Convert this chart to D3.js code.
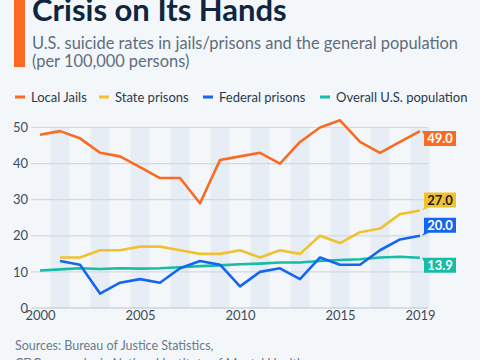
<!DOCTYPE html>
<html><head><meta charset="utf-8">
<script src="https://cdn.jsdelivr.net/npm/d3@7"></script>
<style>
html,body{margin:0;padding:0;background:#f4f7fa;}
svg{display:block;font-family:Lato,"Open Sans",sans-serif;}
</style></head>
<body>
<svg id="c" width="480" height="360"></svg>
<script>
const years = d3.range(2000, 2020);
const localJails = [48,49,47,43,42,39,36,36,29,41,42,43,40,46,50,52,46,43,46,49];
const statePrisons = [null,14,14,16,16,17,17,16,15,15,16,14,16,15,20,18,21,22,26,27];
const federalPrisons = [null,13,12,4,7,8,7,11,13,12,6,10,11,8,14,12,12,16,19,20];
const overallUS = [10.4,10.7,11.0,10.8,11.0,10.9,11.0,11.3,11.6,11.8,12.1,12.3,12.6,12.6,13.0,13.3,13.5,14.0,14.2,13.9];
const seriesNames = ["Local Jails","State prisons","Federal prisons","Overall U.S. population"];
const seriesColors = ["#fb6a22","#efc22f","#1566ee","#15bca6"];
const yTicks = [0,10,20,30,40,50];
const xTickLabels = [2000,2005,2010,2015,2019];
const bandYears = [2001,2003,2005,2007,2009,2011,2013,2015,2017,2019];

const svg = d3.select("#c");
const x = d3.scaleLinear().domain([2000,2019]).range([40,420]);
const y = d3.scaleLinear().domain([0,50]).range([308,127.5]);

// header
svg.append("rect").attr("x",14).attr("y",0).attr("width",11).attr("height",67).attr("fill","#fb6a22");
svg.append("text").attr("x",32).attr("y",21).attr("font-size",31).attr("font-weight",700)
  .attr("fill","#0f2640").text("Crisis on Its Hands");
svg.append("text").attr("x",32).attr("y",48.5).attr("font-size",16.4).attr("fill","#5c6d80")
  .text("U.S. suicide rates in jails/prisons and the general population");
svg.append("text").attr("x",32).attr("y",67).attr("font-size",16.4).attr("fill","#5c6d80")
  .text("(per 100,000 persons)");

// legend
const legX = [15,99,203,320];
seriesNames.forEach((n,i)=>{
  svg.append("rect").attr("x",legX[i]).attr("y",95.5).attr("width",10).attr("height",3).attr("fill",seriesColors[i]);
  svg.append("text").attr("x",legX[i]+16).attr("y",102).attr("font-size",13).attr("fill","#2b3a4a").text(n);
});

// bands
svg.append("g").selectAll("rect").data(bandYears).join("rect")
  .attr("x",d=>x(d)-9.5).attr("width",19).attr("y",y(50)).attr("height",y(0)-y(50))
  .attr("fill","#e7edf4");

// gridlines
svg.append("g").selectAll("line").data(yTicks.filter(d=>d>0)).join("line")
  .attr("x1",31).attr("x2",428).attr("y1",d=>y(d)).attr("y2",d=>y(d))
  .attr("stroke","#d0d9e2").attr("stroke-width",1.2);
svg.append("line").attr("x1",31).attr("x2",428).attr("y1",y(0)).attr("y2",y(0))
  .attr("stroke","#b9c4cf").attr("stroke-width",1.2);

// axes labels
const yAxis = d3.axisLeft(y).tickValues(yTicks).tickSize(0).tickPadding(0);
const gy = svg.append("g").attr("transform","translate(28,0)").call(yAxis);
gy.select(".domain").remove();
gy.selectAll("text").attr("font-size",13).attr("fill","#3d4c5c").attr("font-family","Lato,'Open Sans',sans-serif");

const xAxis = d3.axisBottom(x).tickValues(xTickLabels).tickFormat(d3.format("d")).tickSize(0).tickPadding(3);
const gx = svg.append("g").attr("transform","translate(0,308)").call(xAxis);
gx.select(".domain").remove();
gx.selectAll("text").attr("font-size",13).attr("fill","#3d4c5c").attr("font-family","Lato,'Open Sans',sans-serif");

// lines
const allSeries = [localJails,statePrisons,federalPrisons,overallUS];
const line = d3.line().defined(d=>d[1]!=null).x(d=>x(d[0])).y(d=>y(d[1]));
const drawOrder = [3,0,1,2];
drawOrder.forEach(i=>{
  svg.append("path").datum(years.map((yr,j)=>[yr,allSeries[i][j]]))
    .attr("d",line).attr("fill","none").attr("stroke",seriesColors[i])
    .attr("stroke-width",2.6).attr("stroke-linejoin","round");
});

// end labels
const tipDown = [true,false,false,true]; // true: box below tip
const textColors = ["#fff","#1d1d1d","#fff","#fff"];
allSeries.forEach((s,i)=>{
  const v = s[s.length-1];
  const px = x(2019)+2, py = y(v);
  const w = 32, h = 15, bx = px+2;
  let p, by;
  if(tipDown[i]){
    by = py;
    p = `M${px},${by}L${bx+w},${by}L${bx+w},${by+h}L${bx},${by+h}L${bx},${by+4}Z`;
  } else {
    by = py-3-h;
    p = `M${bx},${by}L${bx+w},${by}L${bx+w},${by+h}L${bx+5},${by+h}L${px},${py}L${bx},${by+h}Z`;
  }
  svg.append("path").attr("d",p).attr("fill",seriesColors[i]);
  svg.append("text").attr("x",bx+w/2).attr("y",by+h/2+4.5).attr("text-anchor","middle")
    .attr("font-size",13).attr("font-weight",700).attr("fill",textColors[i]).text(v.toFixed(1));
});

// source
svg.append("text").attr("x",15).attr("y",350).attr("font-size",12.5).attr("fill","#6a7a8c")
  .text("Sources: Bureau of Justice Statistics,");
svg.append("text").attr("x",15).attr("y",368).attr("font-size",12.5).attr("fill","#6a7a8c")
  .text("CDC research via National Institute of Mental Health");
</script>
</body></html>
